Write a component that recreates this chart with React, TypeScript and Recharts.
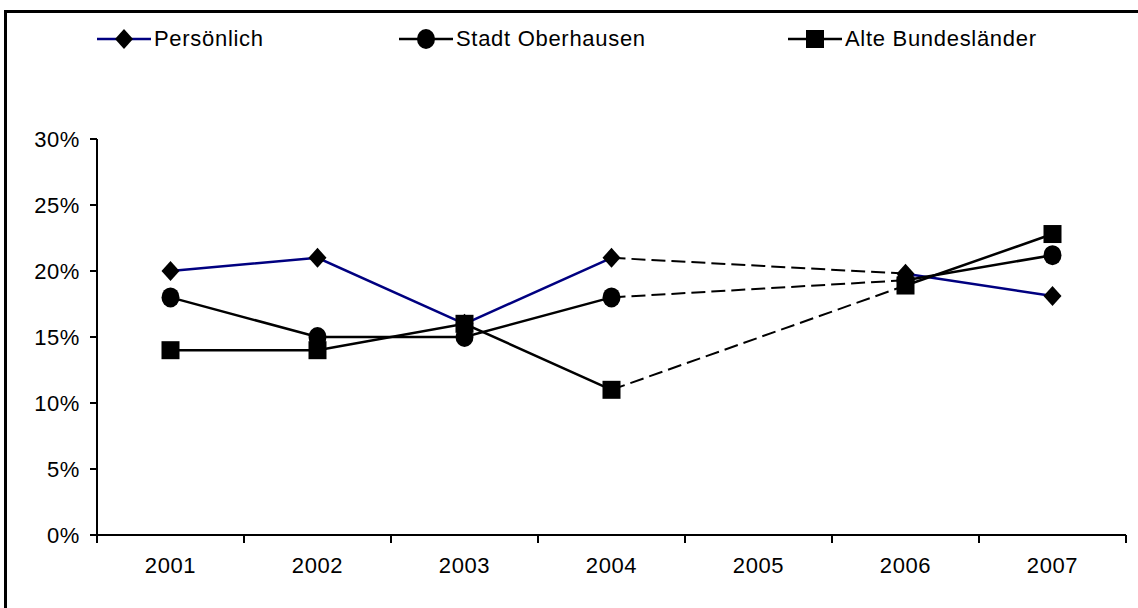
import React from "react";
import { LineChart, Line, XAxis, YAxis } from "recharts";

const years = ["2001", "2002", "2003", "2004", "2005", "2006", "2007"];
const persoenlich = [20, 21, 16, 21, null, 19.8, 18.1];
const oberhausen = [18, 15, 15, 18, null, 19.3, 21.2];
const bundeslaender = [14, 14, 16, 11, null, 18.9, 22.8];
const yTicks = [0, 5, 10, 15, 20, 25, 30];

const NAVY = "#000080";
const FONT = '"Liberation Sans", Arial, sans-serif';
const W = 1138;
const H = 608;
const PLOT_LEFT = 97;
const PLOT_RIGHT = 1126;
const BAND = (PLOT_RIGHT - PLOT_LEFT) / years.length;

// keep only the points on either side of a gap, for the dashed bridge
function bridge(values: (number | null)[]) {
  return values.map((v, i) => {
    if (v == null) return null;
    const prevGap = i > 0 && values[i - 1] == null;
    const nextGap = i < values.length - 1 && values[i + 1] == null;
    return prevGap || nextGap ? v : null;
  });
}

const data = years.map((year, i) => ({
  year,
  p: persoenlich[i],
  o: oberhausen[i],
  b: bundeslaender[i],
  pGap: bridge(persoenlich)[i],
  oGap: bridge(oberhausen)[i],
  bGap: bridge(bundeslaender)[i],
}));

const Diamond = ({ cx, cy }: any) => (
  <polygon
    points={`${cx},${cy - 10} ${cx + 9},${cy} ${cx},${cy + 10} ${cx - 9},${cy}`}
    fill="#000"
  />
);
const Dot = ({ cx, cy }: any) => <ellipse cx={cx} cy={cy} rx={9} ry={10} fill="#000" />;
const Square = ({ cx, cy }: any) => <rect x={cx - 9} y={cy - 9} width={18} height={18} fill="#000" />;

const marker = (Shape: any) => (props: any) => {
  const { cx, cy, index, value } = props;
  if (value == null || cx == null || cy == null) return <g key={`e-${index}`} />;
  return <Shape key={`m-${index}`} cx={cx} cy={cy} />;
};

const YearTick = ({ x, y, payload, index }: any) => (
  <g>
    <line x1={x - BAND / 2} y1={y} x2={x - BAND / 2} y2={y + 8} stroke="#000" strokeWidth={2} />
    {index === years.length - 1 && (
      <line x1={x + BAND / 2} y1={y} x2={x + BAND / 2} y2={y + 8} stroke="#000" strokeWidth={2} />
    )}
    <text
      x={x}
      y={y + 38}
      textAnchor="middle"
      fill="#000"
      fontSize={22}
      fontFamily={FONT}
      style={{ letterSpacing: 0.6 }}
    >
      {payload.value}
    </text>
  </g>
);

const legendItems = [
  { label: "Persönlich", color: NAVY, Shape: Diamond, left: 97 },
  { label: "Stadt Oberhausen", color: "#000", Shape: Dot, left: 399 },
  { label: "Alte Bundesländer", color: "#000", Shape: Square, left: 788 },
];

export default function App() {
  return (
    <div
      style={{
        position: "absolute",
        left: 0,
        top: 0,
        width: W,
        height: H,
        overflow: "hidden",
        background: "#fff",
        fontFamily: FONT,
      }}
    >
      <div
        style={{
          position: "absolute",
          left: 4,
          top: 10,
          width: W + 20,
          height: H + 20,
          border: "3px solid #000",
        }}
      />
      {legendItems.map((item) => (
        <div
          key={item.label}
          style={{
            position: "absolute",
            left: item.left,
            top: 26,
            height: 26,
            display: "flex",
            alignItems: "center",
            fontSize: 22,
            letterSpacing: 0.7,
            color: "#000",
          }}
        >
          <svg width={56} height={26}>
            <line x1={0} y1={13} x2={54} y2={13} stroke={item.color} strokeWidth={2.5} />
            <item.Shape cx={27} cy={13} />
          </svg>
          <span style={{ marginLeft: 1 }}>{item.label}</span>
        </div>
      ))}
      <div style={{ position: "absolute", left: 0, top: 0 }}>
        <LineChart width={W} height={H} data={data} margin={{ top: 139, right: W - PLOT_RIGHT, left: 37, bottom: 33 }}>
          <XAxis
            dataKey="year"
            scale="band"
            height={40}
            tickLine={false}
            tickSize={0}
            tickMargin={0}
            axisLine={{ stroke: "#000", strokeWidth: 2 }}
            tick={<YearTick />}
            interval={0}
          />
          <YAxis
            width={60}
            domain={[0, 30]}
            ticks={yTicks}
            tickFormatter={(v) => `${v}%`}
            tickSize={7}
            tickMargin={10}
            axisLine={{ stroke: "#000", strokeWidth: 2 }}
            tickLine={{ stroke: "#000", strokeWidth: 2 }}
            tick={{ fill: "#000", fontSize: 22, fontFamily: FONT, style: { letterSpacing: 0.6 } }}
          />
          <Line dataKey="pGap" stroke="#000" strokeWidth={2} strokeDasharray="14 6" connectNulls dot={false} isAnimationActive={false} />
          <Line dataKey="oGap" stroke="#000" strokeWidth={2} strokeDasharray="14 6" connectNulls dot={false} isAnimationActive={false} />
          <Line dataKey="bGap" stroke="#000" strokeWidth={2} strokeDasharray="14 6" connectNulls dot={false} isAnimationActive={false} />
          <Line dataKey="p" stroke={NAVY} strokeWidth={2.5} dot={marker(Diamond)} activeDot={false} isAnimationActive={false} />
          <Line dataKey="o" stroke="#000" strokeWidth={2.5} dot={marker(Dot)} activeDot={false} isAnimationActive={false} />
          <Line dataKey="b" stroke="#000" strokeWidth={2.5} dot={marker(Square)} activeDot={false} isAnimationActive={false} />
        </LineChart>
      </div>
    </div>
  );
}
